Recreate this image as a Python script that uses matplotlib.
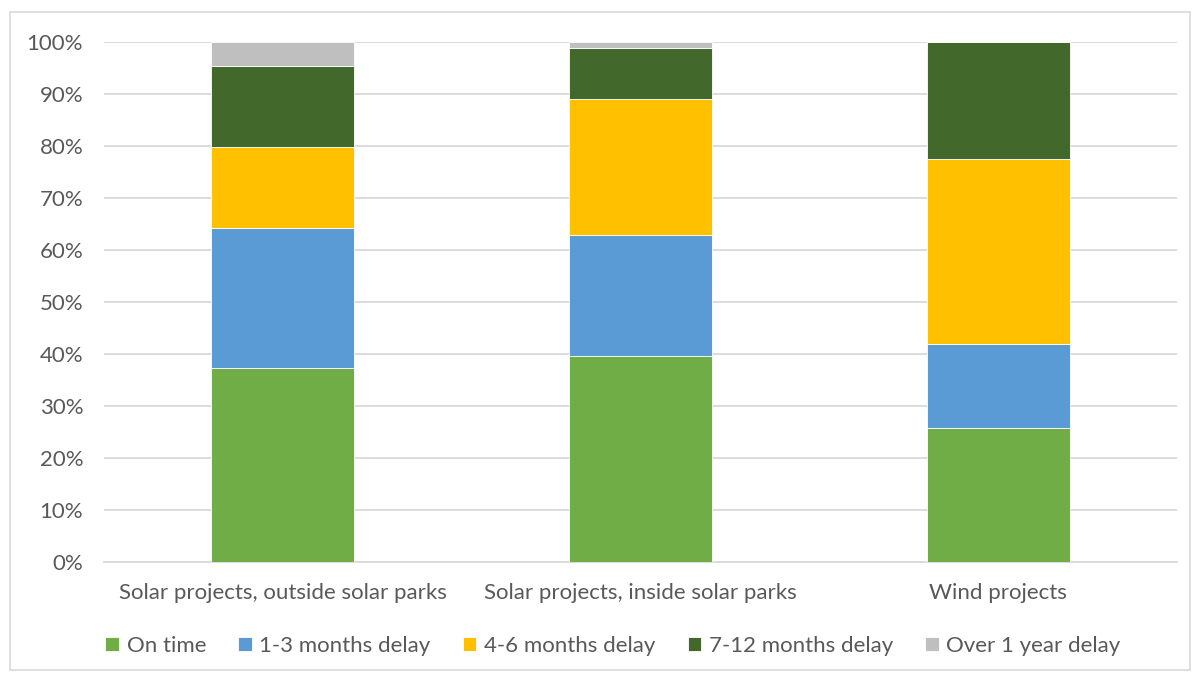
import matplotlib
matplotlib.use("Agg")
import matplotlib.pyplot as plt
import numpy as np
from matplotlib.patches import Rectangle

categories = ["Solar projects, outside solar parks", "Solar projects, inside solar parks", "Wind projects"]
series_names = ["On time", "1-3 months delay", "4-6 months delay", "7-12 months delay", "Over 1 year delay"]
on_time = [37.3, 39.5, 25.8]
delay_1_3 = [26.9, 23.4, 16.1]
delay_4_6 = [15.6, 26.0, 35.5]
delay_7_12 = [15.5, 9.8, 22.6]
delay_over_1y = [4.7, 1.3, 0.0]
colors = ["#70AD47", "#5B9BD5", "#FFC000", "#43682B", "#BFBFBF"]
yticks = [0, 10, 20, 30, 40, 50, 60, 70, 80, 90, 100]

plt.rcParams['font.family'] = ['Lato', 'DejaVu Sans']
fig = plt.figure(figsize=(11.94, 6.75), dpi=100)
ax = fig.add_axes([104/1194, 1 - 561.7/675, (1177-104)/1194, 520/675])

x = np.arange(len(categories))
bottom = np.zeros(len(categories))
handles = []
for name, vals, c in zip(series_names, [on_time, delay_1_3, delay_4_6, delay_7_12, delay_over_1y], colors):
    b = ax.bar(x, vals, width=0.4, bottom=bottom, color=c, label=name, zorder=3,
               edgecolor="white", linewidth=0.6)
    bottom += np.array(vals)
    handles.append(b)

ax.set_xlim(-0.5, 2.5)
ax.set_ylim(0, 100)
ax.set_yticks(yticks)
ax.set_yticklabels([f"{t}%" for t in yticks])
ax.set_xticks(x)
ax.set_xticklabels(categories)
ax.grid(axis="y", color="#D9D9D9", linewidth=1.3, zorder=0)
for s in ["top", "right", "left"]:
    ax.spines[s].set_visible(False)
ax.spines["bottom"].set_color("#D9D9D9")
ax.spines["bottom"].set_linewidth(1.3)
ax.tick_params(axis="both", length=0, labelsize=16, colors="#595959")
ax.tick_params(axis="y", pad=15)
ax.tick_params(axis="x", pad=15)

fig.legend(handles=handles, labels=series_names, loc="center", bbox_to_anchor=(613/1194, 1 - 646/675),
           ncol=5, frameon=False, fontsize=16, handlelength=0.6, handleheight=0.6,
           handletextpad=0.35, columnspacing=1.45, labelcolor="#595959")

fig.add_artist(Rectangle((10/1194, 1 - 670/675), (1190-10)/1194, (670-12)/675,
                         transform=fig.transFigure, fill=False, edgecolor="#D9D9D9", linewidth=1.2))

fig.savefig("out.png", dpi=100)
